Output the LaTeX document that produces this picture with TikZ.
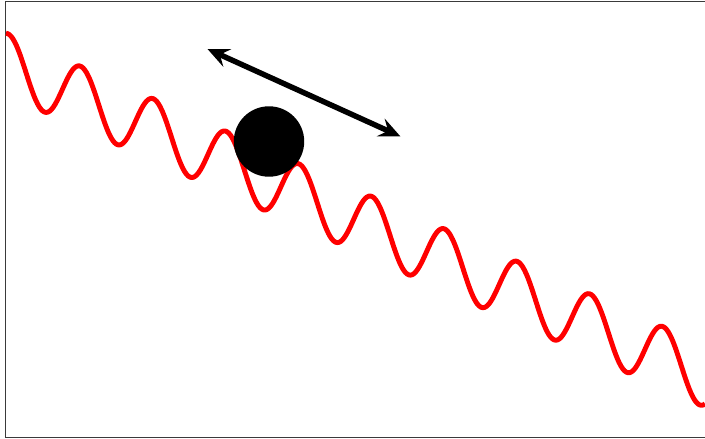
\documentclass[tikz,border=0pt]{standalone}
\usetikzlibrary{arrows.meta,positioning}
\definecolor{framegray}{HTML}{3A3A3A}

\begin{document}
\begin{tikzpicture}[
  x=0.025cm, y=-0.025cm,
  wave/.style={red, line width=3.5pt, line join=round},
  ball/.style={circle, fill=black, minimum size=1.76cm, inner sep=0pt},
  arr/.style={{Stealth[length=5.4mm, width=4.8mm, inset=2mm]}-{Stealth[length=5.4mm, width=4.8mm, inset=2mm]}, line width=3.9pt, black}
]
  \useasboundingbox (0,0) rectangle (705,439);
  \draw[framegray, line width=0.7pt] (5.5,1) rectangle (706,437);

  % tilted washboard
  \draw[wave] plot[domain=6:705, samples=400, smooth] (\x, {61.2 + 0.447*\x - 31*cos(4.945*(\x-7.9))});

  \node[ball] (particle) at (269,141.5) {};

  \coordinate (uphill) at (207.5,49);
  \coordinate (downhill) at (400.5,136.5);
  \draw[arr] (uphill) -- (downhill);
\end{tikzpicture}
\end{document}
